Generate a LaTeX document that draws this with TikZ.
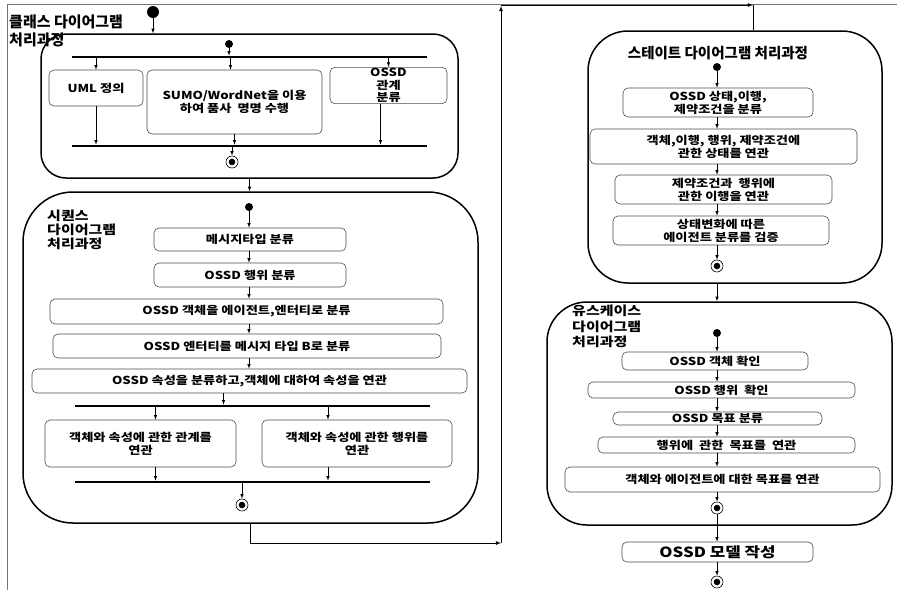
\documentclass[tikz,border=0pt]{standalone}
\usepackage{fontspec}
\usepackage{tikz}
\usetikzlibrary{arrows,calc}
\newfontfamily\krfont{Noto Sans CJK KR}[FakeStretch=1.2]
\newfontfamily\krtitle{Noto Sans CJK KR}
\tikzstyle{act}=[rectangle,rounded corners=5pt,draw=black!70,line width=0.6pt,
  inner sep=1pt,align=center,font=\krfont\bfseries\fontsize{11}{13}\selectfont]
\tikzstyle{region}=[rectangle,draw=black,line width=1.5pt,inner sep=0pt]
\tikzstyle{bar}=[rectangle,fill=black,inner sep=0pt,minimum height=2.2pt,
  minimum width=355pt]
\tikzstyle{init}=[circle,fill=black,inner sep=0pt,minimum size=8pt]
\tikzstyle{fin}=[circle,draw=black,line width=0.6pt,inner sep=0pt,minimum size=12pt,
  path picture={\fill[black] (path picture bounding box.center) circle (3.3pt);}]
\tikzstyle{flow}=[-latex,line width=0.6pt]
\tikzstyle{ttl}=[anchor=north west,inner sep=0pt,align=left]

\begin{document}
\begin{tikzpicture}[x=1pt,y=-1pt]
    \useasboundingbox (0,0) rectangle (897,590);
    \draw [black!55,line width=0.8pt] (7,590) -- (7,4) -- (897,4);

    \node [style=region,rounded corners=25pt,minimum width=417pt,minimum height=144pt] (cbox) at (249.5,106) {};
    \node [style=ttl,font=\krtitle\bfseries\fontsize{15}{18}\selectfont] (ct) at (9,15) {클래스 다이어그램\\처리과정};
    \node [style=init,minimum size=12pt] (c0) at (153,12) {};
    \node [style=init] (ci) at (229,44) {};
    \node [style=bar] (cfork) at (249.5,57) {};
    \node [style=act,minimum width=94pt,minimum height=36pt] (c1) at (96,88) {UML 정의};
    \node [style=act,minimum width=175pt,minimum height=64pt] (c2) at (234.5,102) {SUMO/WordNet을 이용\\하여 품사~~명명 수행};
    \node [style=act,minimum width=117pt,minimum height=35pt,font=\krfont\bfseries\fontsize{11}{12.5}\selectfont] (c3) at (388.5,85.5) {OSSD\\관계\\분류};
    \node [style=bar] (cjoin) at (249.5,146) {};
    \node [style=fin] (cf) at (232,162) {};
    \coordinate (c2a) at ($(c2.north)+(-4,0)$);
    \coordinate (c3a) at ($(c3.south)+(-8,0)$);
    \draw [style=flow] (c0) to (c0 |- cbox.north);
    \draw [style=flow] (ci) to (ci |- cfork.north);
    \draw [style=flow] (cfork.south -| c1) to (c1);
    \draw [style=flow] (cfork.south -| c2a) to (c2a);
    \draw [style=flow] (cfork.south -| c3) to (c3);
    \draw [style=flow] (c1) to (c1 |- cjoin.north);
    \draw [style=flow] (c2) to (c2 |- cjoin.north);
    \draw [style=flow] (c3a) to (c3a |- cjoin.north);
    \draw [style=flow] (cjoin.south -| cf) to (cf);

    \node [style=region,rounded corners=50pt,minimum width=455pt,minimum height=331pt] (sbox) at (250.5,357.5) {};
    \node [style=ttl,font=\krfont\bfseries\fontsize{12.5}{14}\selectfont] (st) at (47,210) {시퀀스\\다이어그램\\처리과정};
    \node [style=init] (si) at (249,207) {};
    \node [style=act,minimum width=192pt,minimum height=23pt] (s1) at (250,239.5) {메시지타입 분류};
    \node [style=act,minimum width=192pt,minimum height=24pt] (s2) at (250,275) {OSSD 행위 분류};
    \node [style=act,minimum width=393pt,minimum height=25pt] (s3) at (246.5,311.5) {OSSD 객체을 에이전트,엔터티로 분류};
    \node [style=act,minimum width=388pt,minimum height=24pt] (s4) at (247,346) {OSSD 엔터티를 메시지 타입 B로 분류};
    \node [style=act,minimum width=435pt,minimum height=24pt] (s5) at (249.5,381) {OSSD 속성을 분류하고,객체에 대하여 속성을 연관};
    \node [style=bar] (sfork) at (252.5,406) {};
    \node [style=act,minimum width=191pt,minimum height=47pt] (s6) at (140.5,443.5) {객체와 속성에 관한 관계를\\연관};
    \node [style=act,minimum width=190pt,minimum height=47pt] (s7) at (357,443.5) {객체와 속성에 관한 행위를\\연관};
    \node [style=bar] (sjoin) at (252.5,482) {};
    \node [style=fin] (sf) at (242,505) {};
    \coordinate (s5a) at ($(s5.south)+(-26,0)$);
    \coordinate (s6a) at ($(s6.north)+(15,0)$);
    \coordinate (s7a) at ($(s7.north)+(-29,0)$);
    \draw [style=flow] (cbox.south) to (cbox.south |- sbox.north);
    \draw [style=flow] (si) to (si |- s1.north);
    \draw [style=flow] (si |- s1.south) to (si |- s2.north);
    \draw [style=flow] (si |- s2.south) to (si |- s3.north);
    \draw [style=flow] (si |- s3.south) to (si |- s4.north);
    \draw [style=flow] (si |- s4.south) to (si |- s5.north);
    \draw [style=flow] (s5a) to (s5a |- sfork.north);
    \draw [style=flow] (sfork.south -| s6a) to (s6a);
    \draw [style=flow] (sfork.south -| s7a) to (s7a);
    \draw [style=flow] (s6a |- s6.south) to (s6a |- sjoin.north);
    \draw [style=flow] (s7a |- s7.south) to (s7a |- sjoin.north);
    \draw [style=flow] (sjoin.south -| sf) to (sf);

    \node [style=region,rounded corners=40pt,minimum width=294pt,minimum height=252pt] (tbox) at (735,157) {};
    \node [font=\krtitle\bfseries\fontsize{14.5}{16}\selectfont,inner sep=0pt] (tt) at (718,53) {스테이트 다이어그램 처리과정};
    \node [style=init] (ti) at (717,67) {};
    \node [style=act,minimum width=190pt,minimum height=29pt] (t1) at (718,102.5) {OSSD 상태,이행,\\제약조건을 분류};
    \node [style=act,minimum width=267pt,minimum height=35pt] (t2) at (723.5,146.5) {객체,이행, 행위, 제약조건에\\관한 상태를 연관};
    \node [style=act,minimum width=217pt,minimum height=29pt] (t3) at (723.5,189.5) {제약조건과~~행위에\\관한 이행을 연관};
    \node [style=act,minimum width=216pt,minimum height=29pt] (t4) at (721,230.5) {상태변화에 따른\\에이전트 분류를 검증};
    \node [style=fin] (tf) at (717,266) {};

    \coordinate (k1) at (501,543);
    \coordinate (k2) at (501,6);
    \coordinate (k3) at (753,5);
    \draw [style=flow,line width=0.8pt] (sbox.south) |- (k1);
    \draw [style=flow,line width=0.8pt] (k1) to (k2);
    \draw [style=flow,line width=0.8pt] (k2) |- (k3);
    \draw [line width=0.8pt] (k3) to (k3 |- tbox.north);
    \draw [style=flow] (ti) to (ti |- t1.north);
    \draw [style=flow] (ti |- t1.south) to (ti |- t2.north);
    \draw [style=flow] (ti |- t2.south) to (ti |- t3.north);
    \draw [style=flow] (ti |- t3.south) to (ti |- t4.north);
    \draw [style=flow] (ti |- t4.south) to (tf);

    \node [style=region,rounded corners=40pt,minimum width=345pt,minimum height=223pt] (ubox) at (719.5,413.5) {};
    \node [style=ttl,font=\krfont\bfseries\fontsize{12.5}{15.5}\selectfont] (ut) at (572,305) {유스케이스\\다이어그램\\처리과정};
    \node [style=init] (ui) at (717,333) {};
    \node [style=act,minimum width=186pt,minimum height=18pt] (u1) at (715,361) {OSSD 객체 확인};
    \node [style=act,minimum width=267pt,minimum height=16pt] (u2) at (721.5,390) {OSSD 행위~~확인};
    \node [style=act,minimum width=209pt,minimum height=13pt] (u3) at (717.5,418.5) {OSSD 목표 분류};
    \node [style=act,minimum width=257pt,minimum height=16pt] (u4) at (726.5,445) {행위에~~관한~~목표를~~연관};
    \node [style=act,minimum width=315pt,minimum height=25pt] (u5) at (722.5,479.5) {객체와 에이전트에 대한 목표를 연관};
    \node [style=fin] (uf) at (717,508) {};
    \node [style=act,minimum width=191pt,minimum height=20pt,font=\krfont\bfseries\fontsize{14}{16}\selectfont] (u6) at (717.5,552) {OSSD 모델 작성};
    \node [style=fin] (uf2) at (717,582) {};
    \draw [style=flow] (tf |- tbox.south) to (tf |- ubox.north);
    \draw [style=flow] (ui) to (ui |- u1.north);
    \draw [style=flow] (ui |- u1.south) to (ui |- u2.north);
    \draw [style=flow] (ui |- u2.south) to (ui |- u3.north);
    \draw [style=flow] (ui |- u3.south) to (ui |- u4.north);
    \draw [style=flow] (ui |- u4.south) to (ui |- u5.north);
    \draw [style=flow] (ui |- u5.south) to (uf);
    \draw [style=flow] (uf) to (uf |- u6.north);
    \draw [style=flow] (uf |- u6.south) to (uf2);
\end{tikzpicture}
\end{document}
